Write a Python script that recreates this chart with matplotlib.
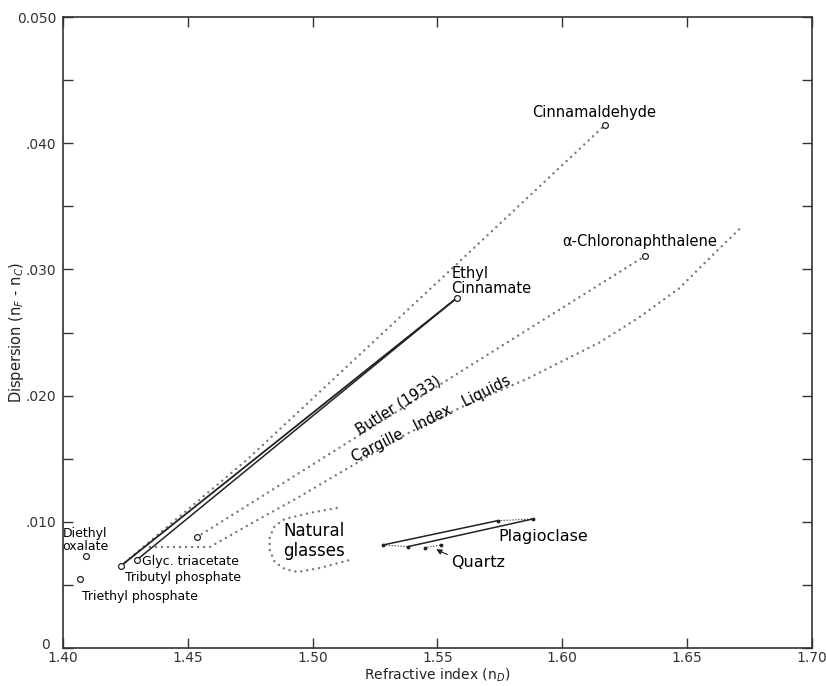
import numpy as np
import matplotlib.pyplot as plt

#%% donnees (n_D, n_F - n_C)

# liquides (cercles)
liq_names = ["Diethyl\noxalate", "Triethyl phosphate", "Tributyl phosphate",
             "Glyc. triacetate", "", "Ethyl\nCinnamate",
             "\u03b1-Chloronaphthalene", "Cinnamaldehyde"]
liq_nd = [1.4092, 1.4068, 1.4231, 1.4295, 1.4535, 1.5579, 1.6331, 1.6171]
liq_disp = [0.00729, 0.00544, 0.00650, 0.00697, 0.00877, 0.02776, 0.03106, 0.04144]

# courbe pointillee vers cinnamaldehyde
cinn_nd = [1.4231, 1.4736, 1.5535, 1.6171]
cinn_disp = [0.0065, 0.0149, 0.02964, 0.04144]

# Butler (1933)
butler_nd = [1.4535, 1.6331]
butler_disp = [0.00877, 0.03106]

# Cargille Index Liquids
carg_nd = [1.4348, 1.4588, 1.4748, 1.4948, 1.5128, 1.5380, 1.5608,
           1.5856, 1.6148, 1.6308, 1.6468, 1.6616, 1.6720]
carg_disp = [0.0080, 0.0080, 0.0098, 0.0120, 0.0141, 0.0170, 0.0192,
             0.0213, 0.0242, 0.0262, 0.0285, 0.0314, 0.0334]

# verres naturels
glass_nd = [1.5096, 1.4988, 1.4888, 1.4848, 1.4828, 1.4828, 1.4848,
            1.4888, 1.4940, 1.5028, 1.5148]
glass_disp = [0.01109, 0.0107, 0.01022, 0.00967, 0.0088, 0.00777, 0.00681,
              0.00626, 0.00602, 0.00634, 0.00697]

# plagioclase et quartz
plag_nd = [1.5281, 1.5381, 1.5741, 1.5881]
plag_disp = [0.00816, 0.00803, 0.01009, 0.01022]
quartz_nd = [1.5448, 1.5515]
quartz_disp = [0.00795, 0.00816]

yticks = [0, 0.005, 0.010, 0.015, 0.020, 0.025, 0.030, 0.035, 0.040, 0.045, 0.050]
ylabels = ["", "", ".010", "", ".020", "", ".030", "", ".040", "", "0.050"]
xticks = [1.40, 1.45, 1.50, 1.55, 1.60, 1.65, 1.70]
xlabels = ["1.40", "1.45", "1.50", "1.55", "1.60", "1.65", "1.70"]

#%% figure
fig = plt.figure(figsize=(8.26, 6.86), dpi=100)
ax = fig.add_axes([0.0763, 0.0554, 0.9067, 0.9198])
ax.set_xlim(1.40, 1.70)
ax.set_ylim(0, 0.050)

dot = dict(color="#7a7a7a", lw=1.8, linestyle=(0, (0.01, 2.4)),
           dash_capstyle="round")

ax.plot(cinn_nd, cinn_disp, **dot)
ax.plot(butler_nd, butler_disp, **dot)
ax.plot(carg_nd, carg_disp, **dot)
ax.plot(glass_nd, glass_disp, **dot)

# double trait plein vers ethyl cinnamate
ax.plot([liq_nd[2], liq_nd[5]], [liq_disp[2], liq_disp[5]], color="#222", lw=1.3)
ax.plot([liq_nd[3], liq_nd[5]], [liq_disp[3], liq_disp[5]], color="#222", lw=1.1)

# plagioclase
ax.plot([plag_nd[0], plag_nd[2]], [plag_disp[0], plag_disp[2]], color="#222", lw=1.1)
ax.plot([plag_nd[1], plag_nd[3]], [plag_disp[1], plag_disp[3]], color="#222", lw=1.1)
ax.plot([plag_nd[0], plag_nd[1]], [plag_disp[0], plag_disp[1]], color="#222", lw=0.8, ls=":")
ax.plot([plag_nd[2], plag_nd[3]], [plag_disp[2], plag_disp[3]], color="#222", lw=0.8, ls=":")
ax.plot(plag_nd, plag_disp, ".", color="#222", ms=3.5)
ax.plot(quartz_nd, quartz_disp, color="#222", lw=0.8, ls=":")
ax.plot(quartz_nd, quartz_disp, ".", color="#222", ms=3.5)

ax.plot(liq_nd, liq_disp, "o", ms=4.2, mfc="white", mec="#222", mew=0.9, zorder=5)

#%% textes
fs = 9
ax.text(1.4088, 0.00856, liq_names[0], fontsize=fs, ha="center", va="center",
        linespacing=1.0)
ax.text(1.4075, 0.00407, liq_names[1], fontsize=fs, ha="left", va="center")
ax.text(1.4248, 0.00555, liq_names[2], fontsize=fs, ha="left", va="center")
ax.text(1.4315, 0.00684, liq_names[3], fontsize=fs, ha="left", va="center")
ax.text(1.5556, 0.02908, liq_names[5], fontsize=10.5, ha="left", va="center",
        linespacing=1.0)
ax.text(1.6308, 0.0322, liq_names[6], fontsize=10.5, ha="center", va="center")
ax.text(1.6128, 0.0424, liq_names[7], fontsize=10.5, ha="center", va="center")
ax.text(1.5004, 0.00848, "Natural\nglasses", fontsize=12, ha="center",
        va="center", linespacing=1.1)
ax.text(1.5924, 0.00884, "Plagioclase", fontsize=11.5, ha="center", va="center")
ax.annotate("Quartz", xy=(1.5495, 0.00782), xytext=(1.5556, 0.00681),
            fontsize=11.5, ha="left", va="center",
            arrowprops=dict(arrowstyle="-|>", color="#222", lw=0.8,
                            mutation_scale=8, shrinkA=1, shrinkB=0,
                            connectionstyle="arc3,rad=-0.1"))


def angle(x0, y0, x1, y1):
    p0 = ax.transData.transform((x0, y0))
    p1 = ax.transData.transform((x1, y1))
    return np.degrees(np.arctan2(p1[1] - p0[1], p1[0] - p0[0]))


ax.text(1.536, 0.0187, "Butler (1933)", fontsize=10.5, ha="center", va="bottom",
        rotation=angle(butler_nd[0], butler_disp[0], butler_nd[1], butler_disp[1]),
        rotation_mode="anchor")
ax.text(1.549, 0.0176, "Cargille   Index   Liquids", fontsize=10.5, ha="center",
        va="bottom", rotation=angle(carg_nd[4], carg_disp[4], carg_nd[7], carg_disp[7]),
        rotation_mode="anchor")

#%% axes
ax.set_yticks(yticks)
ax.set_yticklabels(ylabels)
ax.set_xticks(xticks)
ax.set_xticklabels(xlabels)
ax.tick_params(direction="in", length=7, width=1, top=True, right=True,
               labelsize=10, colors="#333")
ax.tick_params(axis="x", pad=2)
ax.tick_params(axis="y", pad=5)
for s in ax.spines.values():
    s.set_linewidth(1.2)
    s.set_color("#333")
# le "0" de l'axe y, un peu decale a gauche comme sur l'original
ax.text(-0.018, 0.004, "0", transform=ax.transAxes, fontsize=10, color="#333",
        ha="right", va="center")

ax.set_xlabel("Refractive index (n$_D$)", fontsize=10, color="#222")
ax.set_ylabel("Dispersion (n$_F$ - n$_C$)", fontsize=10.5, color="#222")
ax.xaxis.set_label_coords(0.5, -0.029)
ax.yaxis.set_label_coords(-0.049, 0.5)

fig.savefig("out.png", dpi=100)
